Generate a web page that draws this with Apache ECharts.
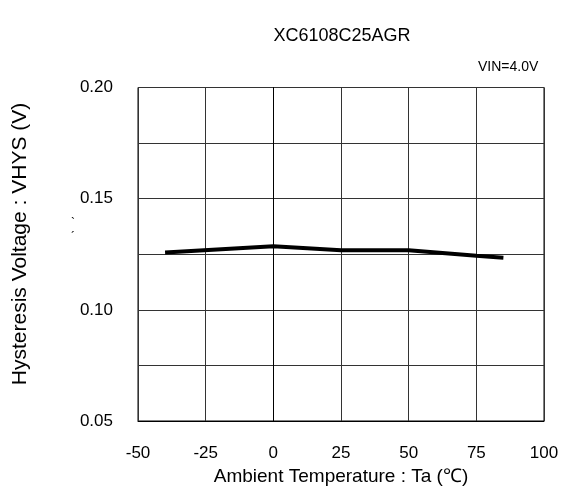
<!DOCTYPE html>
<html><head><meta charset="utf-8">
<script src="https://cdn.jsdelivr.net/npm/echarts@6/dist/echarts.min.js"></script>
<style>html,body{margin:0;padding:0;background:#fff}#c{width:563px;height:487px}</style>
</head><body><div id="c"></div>
<script>
const temps = [-40, 0, 25, 50, 75, 85];
const vhys = [0.1258, 0.1286, 0.1268, 0.1268, 0.1243, 0.1234];
const xTicks = [-50, -25, 0, 25, 50, 75, 100];
const yLabels = [0.05, 0.10, 0.15, 0.20];
const title = 'XC6108C25AGR';
const note = 'VIN=4.0V';
const yName = 'Hysteresis Voltage : VHYS (V)';
const xName = 'Ambient Temperature : Ta (℃)';
const font = '"Liberation Sans", Arial, sans-serif';
const chart = echarts.init(document.getElementById('c'));
chart.setOption({
  animation: false,
  title: { text: title, left: 337, top: 22, textAlign: 'center',
    textStyle: { fontFamily: font, fontSize: 18, fontWeight: 'normal', color: '#000' } },
  graphic: [
    { type: 'text', left: 478, top: 60, style: { text: note, font: '14px ' + font, fill: '#000' } },
    { type: 'text', left: 71, top: 218, style: { text: '`', font: '12px ' + font, fill: '#000' } },
    { type: 'text', left: 71, top: 232, style: { text: '´', font: '12px ' + font, fill: '#000' } },
    { type: 'text', x: 20, y: 244, rotation: Math.PI / 2,
      style: { text: yName, font: '21px ' + font, fill: '#000', align: 'center', verticalAlign: 'middle' } }
  ],
  grid: { left: 138, right: 19, top: 87.5, bottom: 66, show: true, borderColor: '#000', borderWidth: 1,
    containLabel: false, outerBoundsMode: 'none' },
  xAxis: {
    type: 'value', min: xTicks[0], max: xTicks[xTicks.length - 1], interval: 25,
    name: xName, nameLocation: 'middle', nameGap: 45,
    nameTextStyle: { fontFamily: font, fontSize: 19, color: '#000' },
    axisLine: { lineStyle: { color: '#000' } }, axisTick: { show: false },
    axisLabel: { fontFamily: font, fontSize: 17, color: '#000', margin: 24 },
    splitLine: { show: true, lineStyle: { color: '#333', width: 1 } }
  },
  yAxis: {
    type: 'value', min: 0.05, max: 0.20, interval: 0.025,
    axisLine: { lineStyle: { color: '#000' } }, axisTick: { show: false },
    axisLabel: { fontFamily: font, fontSize: 17, color: '#000', margin: 25,
      formatter: v => yLabels.some(l => Math.abs(l - v) < 1e-6) ? v.toFixed(2) : '' },
    splitLine: { show: true, lineStyle: { color: '#333', width: 1 } }
  },
  series: [{
    type: 'line', data: temps.map((t, i) => [t, vhys[i]]), symbol: 'none',
    lineStyle: { color: '#000', width: 4 }
  }]
});
</script></body></html>
